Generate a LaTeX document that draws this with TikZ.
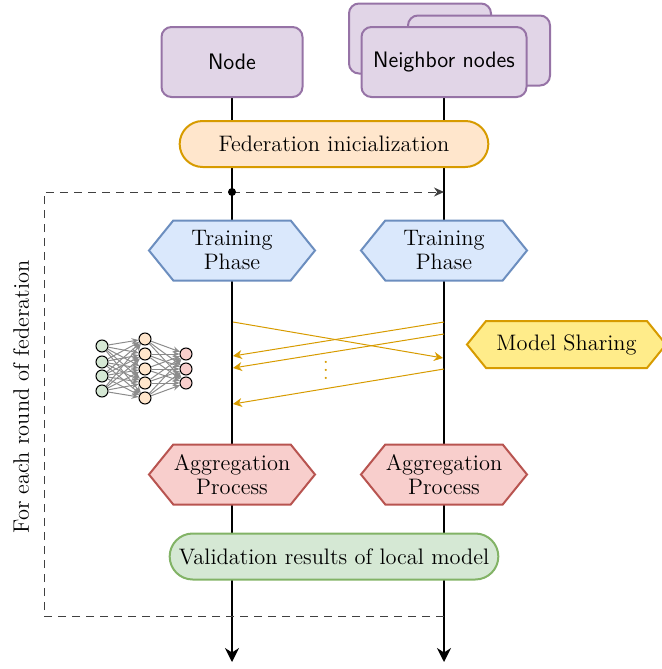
\documentclass[tikz,border=0pt]{standalone}
\usepackage{amsmath,amssymb}
\usepackage{tikz}
\usetikzlibrary{shapes.misc}
\usetikzlibrary{shapes.symbols}
\usetikzlibrary{arrows.meta}
\usetikzlibrary{backgrounds}

\definecolor{purplefill}{HTML}{E1D5E7}
\definecolor{purpleline}{HTML}{9673A6}
\definecolor{orangefill}{HTML}{FFE6CC}
\definecolor{orangeline}{HTML}{D79B00}
\definecolor{bluefill}{HTML}{DAE8FC}
\definecolor{blueline}{HTML}{6C8EBF}
\definecolor{redfill}{HTML}{F8CECC}
\definecolor{redline}{HTML}{B85450}
\definecolor{greenfill}{HTML}{D5E8D4}
\definecolor{greenline}{HTML}{82B366}
\definecolor{yellowfill}{HTML}{FFEC8A}

\tikzset{
  every node/.style={font=\fontsize{11.2}{12}\selectfont},
  device/.style={draw=purpleline,fill=purplefill,line width=1pt,rounded corners=5pt,
    minimum height=35pt,font=\fontsize{11.2}{12}\selectfont\sffamily},
  pill/.style={rounded rectangle,line width=1pt,minimum height=23pt},
  hexa/.style={signal,signal to=west and east,signal pointer angle=102,line width=1pt,
    minimum width=83pt,minimum height=30pt,inner sep=0pt,align=center},
  neuron/.style={circle,draw=black,line width=0.5pt,minimum size=6pt,inner sep=0pt},
  life/.style={black,line width=1pt,-{Stealth[length=7pt,width=7pt]}},
  share/.style={orangeline,line width=0.5pt,-{Stealth[length=4.5pt,width=4.5pt]}},
  loopline/.style={black!75,line width=0.5pt,dash pattern=on 4pt off 3pt},
  synapse/.style={black!45,line width=0.5pt,-{Stealth[length=3.5pt,width=3pt]}}
}

\begin{document}
\begin{tikzpicture}[x=0.5pt,y=-0.5pt]
      \useasboundingbox (0,0) rectangle (661,669);

      \node[device,minimum width=70.5pt] (node) at (232,62) {Node};
      \node[device,minimum width=71pt] (back1) at (420,38.5) {};
      \node[device,minimum width=71pt] (back2) at (479,50.5) {};
      \node[device,minimum width=82.5pt] (neighbor) at (444,62) {Neighbor nodes};

      \node[pill,draw=orangeline,fill=orangefill,minimum width=161pt] (init) at (334,144) {Federation inicialization};

      \node[hexa,draw=blueline,fill=bluefill] (trainA) at (232,250.5) {Training\\Phase};
      \node[hexa,draw=blueline,fill=bluefill] (trainB) at (444,250.5) {Training\\Phase};
      \node[hexa,draw=orangeline,fill=yellowfill,minimum width=99.5pt,minimum height=23.5pt] (share) at (566.5,344.5) {Model Sharing};
      \node[hexa,draw=redline,fill=redfill] (aggA) at (232,474.5) {Aggregation\\Process};
      \node[hexa,draw=redline,fill=redfill] (aggB) at (444,474.5) {Aggregation\\Process};

      \node[pill,draw=greenline,fill=greenfill,minimum width=171pt] (valid) at (334,556.5) {Validation results of local model};

      \node[rotate=90] (round) at (21,397) {For each round of federation};
      \node[orangeline] (dots) at (326,364) {$\vdots$};

      \coordinate (endA) at (232,662);
      \coordinate (endB) at (444,662);
      \coordinate (loopstart) at (444,616);
      \coordinate (loopleft) at (44,616);
      \coordinate (looptop) at (44,192);
      \coordinate (loopend) at (444,192);
      \coordinate (dot) at (232,192);

      \begin{pgfonlayer}{background}
        \draw[life] (node.south) -- (endA);
        \draw[life] (neighbor.south) -- (endB);
        \draw[loopline] (loopstart) -- (loopleft) -- (looptop) -- (dot);
        \draw[loopline,-{Stealth[length=5pt,width=4.5pt]}] (dot) -- (loopend);
      \end{pgfonlayer}
      \fill[black] (dot) circle (2pt);

      % model exchange
      \coordinate (sendA) at (233,322);
      \coordinate (recvB) at (443,358);
      \draw[share] (sendA) -- (recvB);
      \foreach \ya/\yb [count=\i] in {322/356,334/368,369/404} {
        \coordinate (sendB\i) at (444,\ya);
        \coordinate (recvA\i) at (233,\yb);
        \draw[share] (sendB\i) -- (recvA\i);
      }

      % small network
      \foreach \y [count=\i] in {346,362,376,391}
        \node[neuron,fill=greenfill] (in\i) at (102,\y) {};
      \foreach \y [count=\i] in {339,354,369,383,398}
        \node[neuron,fill=orangefill] (hid\i) at (145,\y) {};
      \foreach \y [count=\i] in {354,369,383}
        \node[neuron,fill=redfill] (out\i) at (186,\y) {};
      \foreach \i in {1,...,4}
        \foreach \j in {1,...,5}
          \draw[synapse] (in\i) -- (hid\j);
      \foreach \j in {1,...,5}
        \foreach \k in {1,...,3}
          \draw[synapse] (hid\j) -- (out\k);
    \end{tikzpicture}
\end{document}
